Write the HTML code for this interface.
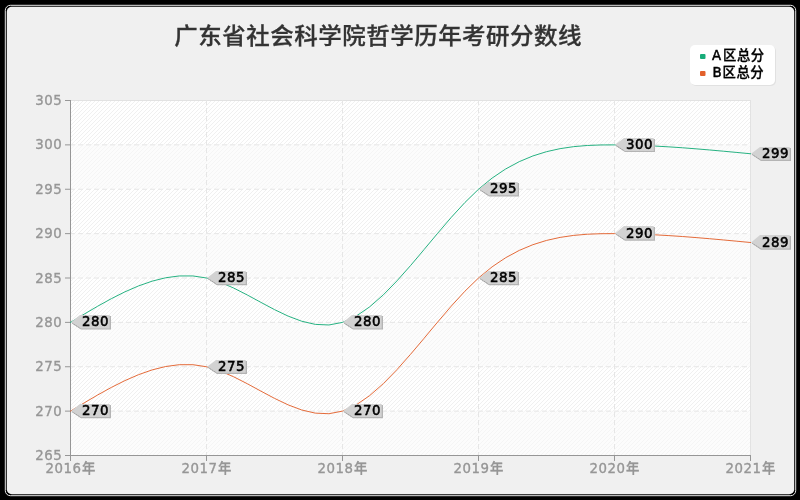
<!DOCTYPE html><html><head><meta charset="utf-8"><title>广东省社会科学院哲学历年考研分数线</title>
<style>html,body{margin:0;padding:0;background:#000;overflow:hidden}svg{display:block}text{font-family:'DejaVu Sans','WenQuanYi Zen Hei','Noto Sans CJK SC',sans-serif}.n text,text.n{font-family:'DejaVu Sans','Noto Sans CJK SC','WenQuanYi Zen Hei',sans-serif;font-weight:500}</style></head><body>
<svg width="800" height="500" viewBox="0 0 800 500">
<defs><pattern id="st" width="4" height="4" patternUnits="userSpaceOnUse"><rect width="4" height="4" fill="#fff"/><rect x="3" y="0" width="1" height="1" fill="#f0f0f0"/><rect x="2" y="1" width="1" height="1" fill="#f0f0f0"/><rect x="1" y="2" width="1" height="1" fill="#f0f0f0"/><rect x="0" y="3" width="1" height="1" fill="#f0f0f0"/></pattern></defs>
<rect width="800" height="500" fill="#000"/>
<rect x="5.3" y="5.3" width="790.4" height="490.4" rx="5" ry="5" fill="none" stroke="#e6e6e6" stroke-width="1"/>
<rect x="6.8" y="6.8" width="787.4" height="487.4" rx="5" ry="5" fill="#f0f0f0"/>
<text transform="translate(0,35.6) scale(1,0.95) translate(0,-35.6)" x="174.3" y="44.6" font-size="23.5" letter-spacing="0.5" fill="#333" stroke="#333" stroke-width="0.3" style="font-family:'Noto Sans CJK SC','WenQuanYi Zen Hei',sans-serif;font-weight:500">广东省社会科学院哲学历年考研分数线</text>
<rect x="70" y="100" width="681" height="356" fill="url(#st)" shape-rendering="crispEdges"/>
<rect x="71" y="410.625" width="679" height="44.375" fill="#fafafa" fill-opacity="0.5"/>
<rect x="71" y="321.875" width="679" height="44.375" fill="#fafafa" fill-opacity="0.5"/>
<rect x="71" y="233.125" width="679" height="44.375" fill="#fafafa" fill-opacity="0.5"/>
<rect x="71" y="144.375" width="679" height="44.375" fill="#fafafa" fill-opacity="0.5"/>
<rect x="70.5" y="100.5" width="680" height="355" fill="none" stroke="#e2e2e2" stroke-width="1"/>
<rect x="70" y="410.625" width="681" height="1" fill="none" stroke="none"/>
<line x1="70" y1="411.125" x2="751" y2="411.125" stroke="#e6e6e6" stroke-width="1" stroke-dasharray="5 3"/>
<rect x="70" y="366.250" width="681" height="1" fill="none" stroke="none"/>
<line x1="70" y1="366.750" x2="751" y2="366.750" stroke="#e6e6e6" stroke-width="1" stroke-dasharray="5 3"/>
<rect x="70" y="321.875" width="681" height="1" fill="none" stroke="none"/>
<line x1="70" y1="322.375" x2="751" y2="322.375" stroke="#e6e6e6" stroke-width="1" stroke-dasharray="5 3"/>
<rect x="70" y="277.500" width="681" height="1" fill="none" stroke="none"/>
<line x1="70" y1="278.000" x2="751" y2="278.000" stroke="#e6e6e6" stroke-width="1" stroke-dasharray="5 3"/>
<rect x="70" y="233.125" width="681" height="1" fill="none" stroke="none"/>
<line x1="70" y1="233.625" x2="751" y2="233.625" stroke="#e6e6e6" stroke-width="1" stroke-dasharray="5 3"/>
<rect x="70" y="188.750" width="681" height="1" fill="none" stroke="none"/>
<line x1="70" y1="189.250" x2="751" y2="189.250" stroke="#e6e6e6" stroke-width="1" stroke-dasharray="5 3"/>
<rect x="70" y="144.375" width="681" height="1" fill="none" stroke="none"/>
<line x1="70" y1="144.875" x2="751" y2="144.875" stroke="#e6e6e6" stroke-width="1" stroke-dasharray="5 3"/>
<line x1="206.5" y1="100" x2="206.5" y2="456" stroke="#e6e6e6" stroke-width="1" stroke-dasharray="5 3"/>
<line x1="342.5" y1="100" x2="342.5" y2="456" stroke="#e6e6e6" stroke-width="1" stroke-dasharray="5 3"/>
<line x1="478.5" y1="100" x2="478.5" y2="456" stroke="#e6e6e6" stroke-width="1" stroke-dasharray="5 3"/>
<line x1="614.5" y1="100" x2="614.5" y2="456" stroke="#e6e6e6" stroke-width="1" stroke-dasharray="5 3"/>
<g stroke="#969696" stroke-width="1" shape-rendering="crispEdges">
<line x1="70.5" y1="100" x2="70.5" y2="456"/>
<line x1="70" y1="455.5" x2="751" y2="455.5"/>
<line x1="65" y1="455.500" x2="70" y2="455.500" shape-rendering="auto"/>
<line x1="65" y1="411.125" x2="70" y2="411.125" shape-rendering="auto"/>
<line x1="65" y1="366.750" x2="70" y2="366.750" shape-rendering="auto"/>
<line x1="65" y1="322.375" x2="70" y2="322.375" shape-rendering="auto"/>
<line x1="65" y1="278.000" x2="70" y2="278.000" shape-rendering="auto"/>
<line x1="65" y1="233.625" x2="70" y2="233.625" shape-rendering="auto"/>
<line x1="65" y1="189.250" x2="70" y2="189.250" shape-rendering="auto"/>
<line x1="65" y1="144.875" x2="70" y2="144.875" shape-rendering="auto"/>
<line x1="65" y1="100.500" x2="70" y2="100.500" shape-rendering="auto"/>
<line x1="70.5" y1="455" x2="70.5" y2="461"/>
<line x1="206.5" y1="455" x2="206.5" y2="461"/>
<line x1="342.5" y1="455" x2="342.5" y2="461"/>
<line x1="478.5" y1="455" x2="478.5" y2="461"/>
<line x1="614.5" y1="455" x2="614.5" y2="461"/>
<line x1="750.5" y1="455" x2="750.5" y2="461"/>
</g>
<g font-size="13.33" fill="#969696" stroke="#969696" stroke-width="0.35" letter-spacing="0.52">
<text x="35.2" y="460">265</text>
<text x="35.2" y="416">270</text>
<text x="35.2" y="371">275</text>
<text x="35.2" y="327">280</text>
<text x="35.2" y="283">285</text>
<text x="35.2" y="238">290</text>
<text x="35.2" y="194">295</text>
<text x="35.2" y="149">300</text>
<text x="35.2" y="105">305</text>
<text class="n" x="70.6" y="473" text-anchor="middle">2016<tspan dx="0.5" dy="-0.2">年</tspan></text>
<text class="n" x="206.6" y="473" text-anchor="middle">2017<tspan dx="0.5" dy="-0.2">年</tspan></text>
<text class="n" x="342.6" y="473" text-anchor="middle">2018<tspan dx="0.5" dy="-0.2">年</tspan></text>
<text class="n" x="478.6" y="473" text-anchor="middle">2019<tspan dx="0.5" dy="-0.2">年</tspan></text>
<text class="n" x="614.6" y="473" text-anchor="middle">2020<tspan dx="0.5" dy="-0.2">年</tspan></text>
<text class="n" x="750.6" y="473" text-anchor="middle">2021<tspan dx="0.5" dy="-0.2">年</tspan></text>
</g>
<polyline points="70.50,322.38 84.10,314.18 97.70,306.21 111.30,298.70 124.90,291.87 138.50,285.95 152.10,281.17 165.70,277.76 179.30,275.94 192.90,275.95 206.50,278.00 220.10,282.19 233.70,288.06 247.30,294.99 260.90,302.37 274.50,309.61 288.10,316.10 301.70,321.23 315.30,324.38 328.90,324.97 342.50,322.38 356.10,316.20 369.70,306.83 383.30,294.88 396.90,280.94 410.50,265.62 424.10,249.52 437.70,233.23 451.30,217.35 464.90,202.49 478.50,189.25 492.10,178.09 505.70,168.95 519.30,161.64 532.90,155.94 546.50,151.68 560.10,148.65 573.70,146.65 587.30,145.48 600.90,144.96 614.50,144.88 628.10,145.07 641.70,145.48 655.30,146.08 668.90,146.86 682.50,147.78 696.10,148.83 709.70,149.97 723.30,151.19 736.90,152.46 750.50,153.75" fill="none" stroke="#17ac79" stroke-width="1" stroke-opacity="0.93" stroke-linejoin="round" stroke-linecap="square"/>
<polyline points="70.50,411.12 84.10,402.93 97.70,394.96 111.30,387.45 124.90,380.62 138.50,374.70 152.10,369.92 165.70,366.51 179.30,364.69 192.90,364.70 206.50,366.75 220.10,370.94 233.70,376.81 247.30,383.74 260.90,391.12 274.50,398.36 288.10,404.85 301.70,409.98 315.30,413.13 328.90,413.72 342.50,411.12 356.10,404.95 369.70,395.58 383.30,383.63 396.90,369.69 410.50,354.37 424.10,338.27 437.70,321.98 451.30,306.10 464.90,291.24 478.50,278.00 492.10,266.84 505.70,257.70 519.30,250.39 532.90,244.69 546.50,240.43 560.10,237.40 573.70,235.40 587.30,234.23 600.90,233.71 614.50,233.62 628.10,233.82 641.70,234.23 655.30,234.83 668.90,235.61 682.50,236.53 696.10,237.58 709.70,238.72 723.30,239.94 736.90,241.21 750.50,242.50" fill="none" stroke="#e2602b" stroke-width="1" stroke-opacity="0.93" stroke-linejoin="round" stroke-linecap="square"/>
<polygon points="72.00,323.38 81.00,316.00 111.00,316.00 111.00,329.57 81.00,329.57" fill="#b4b4b4"/><polygon points="71.00,322.27 80.00,315.00 109.70,315.00 109.70,328.38 80.00,328.38" fill="#d2d2d2"/><line x1="72.30" y1="323.18" x2="80.30" y2="328.27" stroke="#9c9c9c" stroke-width="0.9" stroke-dasharray="1.5 0.6"/><text x="82" y="326" font-size="13.33" letter-spacing="0.52" fill="#000" stroke="#000" stroke-width="0.55">280</text>
<polygon points="208.00,279.00 217.00,272.00 247.00,272.00 247.00,285.20 217.00,285.20" fill="#b4b4b4"/><polygon points="207.00,277.90 216.00,271.00 245.70,271.00 245.70,284.00 216.00,284.00" fill="#d2d2d2"/><line x1="208.30" y1="278.80" x2="216.30" y2="283.90" stroke="#9c9c9c" stroke-width="0.9" stroke-dasharray="1.5 0.6"/><text x="218" y="282" font-size="13.33" letter-spacing="0.52" fill="#000" stroke="#000" stroke-width="0.55">285</text>
<polygon points="344.00,323.38 353.00,316.00 383.00,316.00 383.00,329.57 353.00,329.57" fill="#b4b4b4"/><polygon points="343.00,322.27 352.00,315.00 381.70,315.00 381.70,328.38 352.00,328.38" fill="#d2d2d2"/><line x1="344.30" y1="323.18" x2="352.30" y2="328.27" stroke="#9c9c9c" stroke-width="0.9" stroke-dasharray="1.5 0.6"/><text x="354" y="326" font-size="13.33" letter-spacing="0.52" fill="#000" stroke="#000" stroke-width="0.55">280</text>
<polygon points="480.00,190.25 489.00,183.00 519.00,183.00 519.00,196.45 489.00,196.45" fill="#b4b4b4"/><polygon points="479.00,189.15 488.00,182.00 517.70,182.00 517.70,195.25 488.00,195.25" fill="#d2d2d2"/><line x1="480.30" y1="190.05" x2="488.30" y2="195.15" stroke="#9c9c9c" stroke-width="0.9" stroke-dasharray="1.5 0.6"/><text x="490" y="193" font-size="13.33" letter-spacing="0.52" fill="#000" stroke="#000" stroke-width="0.55">295</text>
<polygon points="616.00,145.88 625.00,139.00 655.00,139.00 655.00,152.07 625.00,152.07" fill="#b4b4b4"/><polygon points="615.00,144.78 624.00,138.00 653.70,138.00 653.70,150.88 624.00,150.88" fill="#d2d2d2"/><line x1="616.30" y1="145.68" x2="624.30" y2="150.78" stroke="#9c9c9c" stroke-width="0.9" stroke-dasharray="1.5 0.6"/><text x="626" y="149" font-size="13.33" letter-spacing="0.52" fill="#000" stroke="#000" stroke-width="0.55">300</text>
<polygon points="752.00,154.75 761.00,148.00 791.00,148.00 791.00,160.95 761.00,160.95" fill="#b4b4b4"/><polygon points="751.00,153.65 760.00,147.00 789.70,147.00 789.70,159.75 760.00,159.75" fill="#d2d2d2"/><line x1="752.30" y1="154.55" x2="760.30" y2="159.65" stroke="#9c9c9c" stroke-width="0.9" stroke-dasharray="1.5 0.6"/><text x="762" y="158" font-size="13.33" letter-spacing="0.52" fill="#000" stroke="#000" stroke-width="0.55">299</text>
<polygon points="72.00,412.12 81.00,405.00 111.00,405.00 111.00,418.32 81.00,418.32" fill="#b4b4b4"/><polygon points="71.00,411.02 80.00,404.00 109.70,404.00 109.70,417.12 80.00,417.12" fill="#d2d2d2"/><line x1="72.30" y1="411.93" x2="80.30" y2="417.02" stroke="#9c9c9c" stroke-width="0.9" stroke-dasharray="1.5 0.6"/><text x="82" y="415" font-size="13.33" letter-spacing="0.52" fill="#000" stroke="#000" stroke-width="0.55">270</text>
<polygon points="208.00,367.75 217.00,361.00 247.00,361.00 247.00,373.95 217.00,373.95" fill="#b4b4b4"/><polygon points="207.00,366.65 216.00,360.00 245.70,360.00 245.70,372.75 216.00,372.75" fill="#d2d2d2"/><line x1="208.30" y1="367.55" x2="216.30" y2="372.65" stroke="#9c9c9c" stroke-width="0.9" stroke-dasharray="1.5 0.6"/><text x="218" y="371" font-size="13.33" letter-spacing="0.52" fill="#000" stroke="#000" stroke-width="0.55">275</text>
<polygon points="344.00,412.12 353.00,405.00 383.00,405.00 383.00,418.32 353.00,418.32" fill="#b4b4b4"/><polygon points="343.00,411.02 352.00,404.00 381.70,404.00 381.70,417.12 352.00,417.12" fill="#d2d2d2"/><line x1="344.30" y1="411.93" x2="352.30" y2="417.02" stroke="#9c9c9c" stroke-width="0.9" stroke-dasharray="1.5 0.6"/><text x="354" y="415" font-size="13.33" letter-spacing="0.52" fill="#000" stroke="#000" stroke-width="0.55">270</text>
<polygon points="480.00,279.00 489.00,272.00 519.00,272.00 519.00,285.20 489.00,285.20" fill="#b4b4b4"/><polygon points="479.00,277.90 488.00,271.00 517.70,271.00 517.70,284.00 488.00,284.00" fill="#d2d2d2"/><line x1="480.30" y1="278.80" x2="488.30" y2="283.90" stroke="#9c9c9c" stroke-width="0.9" stroke-dasharray="1.5 0.6"/><text x="490" y="282" font-size="13.33" letter-spacing="0.52" fill="#000" stroke="#000" stroke-width="0.55">285</text>
<polygon points="616.00,234.62 625.00,227.00 655.00,227.00 655.00,240.82 625.00,240.82" fill="#b4b4b4"/><polygon points="615.00,233.53 624.00,226.00 653.70,226.00 653.70,239.62 624.00,239.62" fill="#d2d2d2"/><line x1="616.30" y1="234.43" x2="624.30" y2="239.53" stroke="#9c9c9c" stroke-width="0.9" stroke-dasharray="1.5 0.6"/><text x="626" y="238" font-size="13.33" letter-spacing="0.52" fill="#000" stroke="#000" stroke-width="0.55">290</text>
<polygon points="752.00,243.50 761.00,236.00 791.00,236.00 791.00,249.70 761.00,249.70" fill="#b4b4b4"/><polygon points="751.00,242.40 760.00,235.00 789.70,235.00 789.70,248.50 760.00,248.50" fill="#d2d2d2"/><line x1="752.30" y1="243.30" x2="760.30" y2="248.40" stroke="#9c9c9c" stroke-width="0.9" stroke-dasharray="1.5 0.6"/><text x="762" y="247" font-size="13.33" letter-spacing="0.52" fill="#000" stroke="#000" stroke-width="0.55">289</text>
<rect x="691" y="46" width="85" height="40" rx="5" fill="#e1e1e1"/>
<rect x="690" y="45" width="85" height="40" rx="5" fill="#fff"/>
<rect x="700" y="54" width="5.5" height="5" rx="1" fill="#17ac79"/>
<rect x="700" y="71" width="5.5" height="5" rx="1" fill="#e2602b"/>
<g font-size="13.33" fill="#000" stroke="#000" stroke-width="0.3" letter-spacing="0.55" class="n">
<text x="712" y="60"><tspan stroke-width="0.5">A</tspan><tspan dx="1.4">区总分</tspan></text>
<text x="712.6" y="77"><tspan stroke-width="0.5">B</tspan><tspan dx="0.2">区总分</tspan></text>
</g>
</svg></body></html>
